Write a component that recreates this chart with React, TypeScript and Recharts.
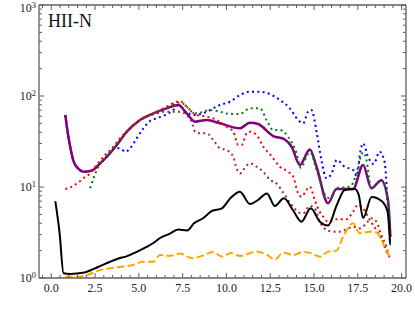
import React from "react";
import { LineChart, Line, XAxis, YAxis } from "recharts";

const blackX = [0.23,0.47,0.70,1.08,1.82,2.39,2.79,3.36,3.76,4.33,4.90,5.47,5.81,6.21,6.78,7.24,7.75,8.15,8.66,9.17,9.74,10.26,10.77,11.34,11.8,12.31,12.76,13.28,13.79,14.28,14.81,15.33,15.8,16.3,16.75,17.32,17.55,17.8,18.29,18.86,19.2,19.34];
const blackY = [7.0,3.2,1.13,1.11,1.14,1.25,1.35,1.51,1.62,1.74,1.95,2.21,2.41,2.75,3.08,3.41,3.33,3.99,4.53,5.45,5.83,7.67,8.88,6.5,7.2,8.5,6.18,7.5,5.59,4.16,5.83,4.16,3.78,6.34,9.27,9.5,8.2,4.56,7.77,7.0,5.31,2.4];

const orangeX = [0.8,1.48,2.05,2.79,3.76,4.67,5.24,5.81,6.21,6.78,7.35,8.03,8.6,9.23,9.74,10.26,10.77,11.72,12.29,12.76,13.24,13.81,14.38,14.85,15.33,15.8,16.28,16.66,17.23,17.61,18.18,18.58,19.03,19.32];
const orangeY = [1.03,1.03,1.08,1.22,1.31,1.39,1.51,1.51,1.79,1.75,1.86,1.65,1.75,1.93,1.72,1.88,1.75,1.95,1.81,1.6,1.9,1.79,1.93,1.87,1.71,1.95,2.0,2.84,4.0,3.1,3.23,3.15,2.21,1.7];

const purpleX = [0.8,0.99,1.27,1.56,1.84,2.34,2.7,3.17,3.74,4.31,5.07,5.83,6.59,7.25,7.73,8.21,8.87,9.63,10.77,11.34,11.81,12.67,13.33,13.73,14.19,14.76,15.14,15.8,16.28,17.23,17.8,18.27,18.84,19.22,19.36];
const purpleY = [61.8,34.5,19.3,15.8,14.7,15.2,17.5,21.5,29,40.5,54.5,64.5,73.2,79.7,64.5,52.2,54.5,50.1,44.2,50.9,49.2,36.3,33.3,27.5,17.5,25.8,16.8,6.62,9.5,9.5,17.5,9.68,11.9,7.2,2.82];

const blueX = [0.8,0.99,1.27,1.56,1.84,2.34,2.7,3.17,3.6,3.99,4.22,4.5,4.88,5.26,5.64,6.02,6.5,6.97,7.25,7.69,8.21,8.87,9.63,10.2,10.77,11.34,11.91,12.48,13.05,13.62,14.09,14.38,14.66,14.85,15.16,15.42,15.71,15.99,16.3,16.75,17.23,17.44,17.66,17.8,18.08,18.4,18.75,19.03,19.22,19.36];
const blueY = [61.8,34.5,19.3,15.8,14.7,15.2,17.5,21.5,27,26.2,24.4,26.6,34.3,44.2,53.1,56.9,61.8,70.2,79.7,66.7,61.8,67.2,79.7,86.5,102.6,111.5,111.5,105,90.4,73.2,54.5,50.1,67.2,70.2,38.9,19.8,12.5,13.9,19.8,16.7,15.4,13.2,25.5,30.2,21.5,17.9,24.4,18.8,6.08,2.97];

const greenX = [2.22,2.41,2.6,2.89,3.17,3.74,4.31,5.07,5.83,6.59,7.35,7.73,8.02,8.3,8.49,9.06,9.63,10.2,10.77,11.34,11.91,12.29,12.67,13.05,13.52,14.0,14.24,14.66,14.8,15.14,15.71,15.95,16.28,17.04,17.42,17.61,17.8,17.99,18.27,18.84,19.13,19.28,19.34];
const greenY = [9.68,12.5,15.4,19,21.5,29,40.5,54.5,64.5,74,85,76.3,67.2,64.5,65.5,70.2,67.2,63.4,63.4,73.2,73.2,54.5,42.3,42.3,35.7,23.5,16.3,23,24,15.4,7.82,7.5,9.68,10.1,14.1,19.8,24,19.8,9.68,11.7,8.52,5.59,2.25];

const redX = [0.8,1.18,1.56,1.84,2.22,2.6,2.98,3.46,3.93,4.5,5.07,5.83,6.59,7.16,7.35,7.73,8.3,8.87,9.44,10.01,10.39,10.67,10.87,11.15,11.34,11.72,12.1,12.48,13.05,13.52,13.81,14.09,14.28,14.57,14.76,15.04,15.33,15.52,15.8,16.28,16.85,17.23,17.51,17.8,18.18,18.56,18.93,19.22,19.32];
const redY = [9.5,10.1,11.3,12.5,14.1,17.5,21.5,26.6,34.3,44.2,54.5,64.5,76.3,86.5,88,76.3,61.8,59.3,54.5,46,40.5,29,29,38.9,40.5,37.2,27.7,23,16.7,14.7,13,8.52,7.82,9.27,10.1,7.2,5.3,4.72,4.16,4.41,4.41,5.35,6.34,5.83,4.34,3.37,2.5,1.79,1.69];

const brownX = [0.8,0.99,1.27,1.56,1.84,2.34,2.7,3.17,3.74,4.31,5.07,5.83,6.59,7.35,7.73,8.02,8.21,8.49,8.87,9.25,9.63,10.01,10.39,10.58,10.77,10.96,11.34,11.72,12.1,12.48,12.86,13.24,13.71,14.19,14.38,14.76,15.04,15.33,15.71,16.09,16.47,16.85,17.23,17.61,17.99,18.27,18.56,18.84,19.13,19.32];
const brownY = [61.8,34.5,19.3,15.8,14.7,15.2,17.5,21.5,29,40.5,54.5,63,67.2,67.2,61.8,52.2,40.5,38.9,38.9,32.8,26.6,25.5,21.5,16,14.1,15.4,18.2,16.7,14.7,12,10.9,8.7,6.4,5.2,5.14,6.2,5.83,4.16,3.37,3.23,3.23,3.43,3.66,3.51,4.0,4.53,4.16,2.97,2.21,1.65];

const xMajorTicks = [0, 2.5, 5, 7.5, 10, 12.5, 15, 17.5, 20];
const xMinorTicks = Array.from({ length: 42 }, (_, i) => -0.5 + i * 0.5).filter((v) => !xMajorTicks.includes(v));
const xTicks = [...xMajorTicks, ...xMinorTicks].sort((a, b) => a - b);

const yMajorTicks = [1, 10, 100, 1000];
const yMajorExp = ["0", "1", "2", "3"];
const yMinorTicks = [1, 10, 100].flatMap((d) => [2, 3, 4, 5, 6, 7, 8, 9].map((m) => m * d));
const yTicks = [...yMajorTicks, ...yMinorTicks].sort((a, b) => a - b);

const AX = "#606060";
const FONT = "'Liberation Serif', 'DejaVu Serif', serif";

const mk = (xs: number[], ys: number[]) => xs.map((x, i) => ({ x, y: ys[i] }));

const BottomTick = (props: any) => {
  const { x, y, payload } = props;
  const v = payload.value as number;
  const major = xMajorTicks.includes(v);
  return (
    <g>
      <line x1={x} x2={x} y1={y} y2={y - (major ? 5 : 3)} stroke={AX} strokeWidth={1} />
      {major && (
        <text x={x} y={y + 14} textAnchor="middle" fontFamily={FONT} fontSize={12} fill="#222">
          {v.toFixed(1)}
        </text>
      )}
    </g>
  );
};

const TopTick = (props: any) => {
  const { x, y, payload } = props;
  const major = xMajorTicks.includes(payload.value);
  return <line x1={x} x2={x} y1={y} y2={y + (major ? 5 : 3)} stroke={AX} strokeWidth={1} />;
};

const LeftTick = (props: any) => {
  const { x, y, payload } = props;
  const v = payload.value as number;
  const idx = yMajorTicks.indexOf(v);
  const major = idx >= 0;
  const base = Math.max(y + 4, 12);
  return (
    <g>
      <line x1={x} x2={x + (major ? 5 : 3)} y1={y} y2={y} stroke={AX} strokeWidth={1} />
      {major && (
        <text x={x - 3} y={base} textAnchor="end" fontFamily={FONT} fontSize={12} fill="#222">
          <tspan>10</tspan>
          <tspan dy={-4.5} fontSize={8.5}>{yMajorExp[idx]}</tspan>
        </text>
      )}
    </g>
  );
};

const RightTick = (props: any) => {
  const { x, y, payload } = props;
  const major = yMajorTicks.includes(payload.value);
  return <line x1={x} x2={x - (major ? 5 : 3)} y1={y} y2={y} stroke={AX} strokeWidth={1} />;
};

const dotted = "2 3.3";

export default function App() {
  return (
    <div style={{ position: "absolute", left: 0, top: 0, width: 415, height: 312, background: "#fff" }}>
      <LineChart width={415} height={312} margin={{ top: 4, right: 8, bottom: 33, left: 38 }}>
        <XAxis xAxisId="b" type="number" dataKey="x" domain={[-0.7, 20.25]} ticks={xTicks} interval={0}
          height={1} tickSize={0} tickMargin={0} tickLine={false} allowDataOverflow
          axisLine={{ stroke: AX, strokeWidth: 1.3 }} tick={<BottomTick />} />
        <XAxis xAxisId="t" orientation="top" type="number" dataKey="x" domain={[-0.7, 20.25]} ticks={xTicks} interval={0}
          height={1} tickSize={0} tickMargin={0} tickLine={false} allowDataOverflow
          axisLine={{ stroke: AX, strokeWidth: 1.3 }} tick={<TopTick />} />
        <YAxis yAxisId="l" type="number" scale="log" domain={[1, 1000]} ticks={yTicks} interval={0}
          width={1} tickSize={0} tickMargin={0} tickLine={false} allowDataOverflow
          axisLine={{ stroke: AX, strokeWidth: 1.3 }} tick={<LeftTick />} />
        <YAxis yAxisId="r" orientation="right" type="number" scale="log" domain={[1, 1000]} ticks={yTicks} interval={0}
          width={1} tickSize={0} tickMargin={0} tickLine={false} allowDataOverflow
          axisLine={{ stroke: AX, strokeWidth: 1.3 }} tick={<RightTick />} />

        <Line xAxisId="b" yAxisId="l" data={mk(blueX, blueY)} dataKey="y" type="monotone" stroke="#0000ff"
          strokeWidth={2} strokeDasharray={dotted} dot={false} isAnimationActive={false} />
        <Line xAxisId="b" yAxisId="l" data={mk(brownX, brownY)} dataKey="y" type="monotone" stroke="#a52a2a"
          strokeWidth={2} strokeDasharray={dotted} dot={false} isAnimationActive={false} />
        <Line xAxisId="b" yAxisId="l" data={mk(purpleX, purpleY)} dataKey="y" type="monotone" stroke="#800080"
          strokeWidth={2.5} dot={false} isAnimationActive={false} />
        <Line xAxisId="b" yAxisId="l" data={mk(greenX, greenY)} dataKey="y" type="monotone" stroke="#008000"
          strokeWidth={2} strokeDasharray={dotted} dot={false} isAnimationActive={false} />
        <Line xAxisId="b" yAxisId="l" data={mk(redX, redY)} dataKey="y" type="monotone" stroke="#ff0000"
          strokeWidth={2} strokeDasharray={dotted} dot={false} isAnimationActive={false} />
        <Line xAxisId="b" yAxisId="l" data={mk(orangeX, orangeY)} dataKey="y" type="monotone" stroke="#ffa500"
          strokeWidth={2} strokeDasharray="7.4 3.2" dot={false} isAnimationActive={false} />
        <Line xAxisId="b" yAxisId="l" data={mk(blackX, blackY)} dataKey="y" type="monotone" stroke="#000000"
          strokeWidth={2} dot={false} isAnimationActive={false} />
      </LineChart>
      <svg width={415} height={312} style={{ position: "absolute", left: 0, top: 0, pointerEvents: "none" }}>
        <text x={48} y={27} fontFamily={FONT} fontSize={18} fill="#111">HII-N</text>
      </svg>
    </div>
  );
}
